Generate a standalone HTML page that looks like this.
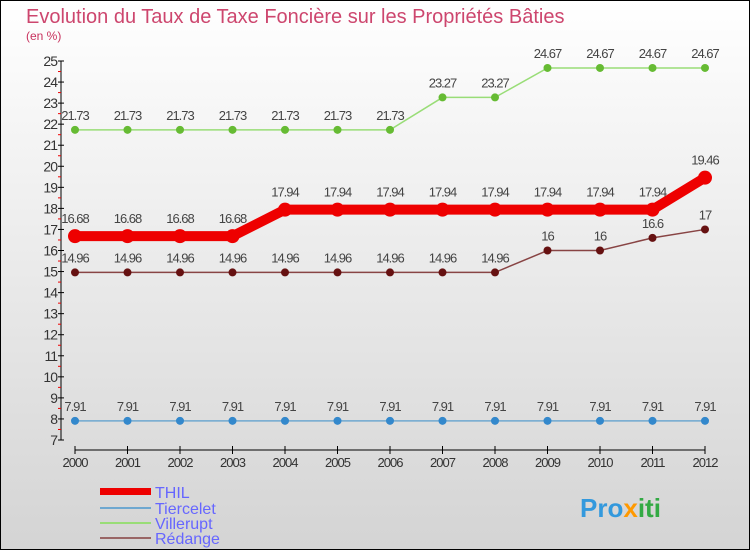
<!DOCTYPE html>
<html><head><meta charset="utf-8"><style>
body{margin:0}
#c{width:750px;height:550px;position:relative;overflow:hidden}
text{font-family:"Liberation Sans",sans-serif}
</style></head><body>
<div id="c">
<svg id="s" width="750" height="550">
<defs><linearGradient id="bg" x1="0" y1="0" x2="0" y2="1"><stop offset="0" stop-color="#ffffff"/><stop offset="1" stop-color="#d4d4d4"/></linearGradient></defs>
<rect x="0.5" y="0.5" width="749" height="549" fill="url(#bg)" stroke="#000"/>
<text x="26" y="23" font-size="20" fill="#c8325e" fill-opacity="0.9">Evolution du Taux de Taxe Foncière sur les Propriétés Bâties</text>
<text x="26" y="40" font-size="12" fill="#c8325e">(en %)</text>
<g id="axes"></g><g id="series"></g>
<g>
<rect x="100" y="488" width="51" height="7" fill="#ee0000"/>
<text x="155" y="498" font-size="16" fill="#6666ff">THIL</text>
<rect x="100" y="507" width="51" height="2" fill="#6fa8d0"/>
<text x="155" y="514" font-size="16" fill="#6666ff">Tiercelet</text>
<rect x="100" y="522" width="51" height="2" fill="#99dd77"/>
<text x="155" y="529" font-size="16" fill="#6666ff">Villerupt</text>
<rect x="100" y="537" width="51" height="2" fill="#996666"/>
<text x="155" y="544" font-size="16" fill="#6666ff">Rédange</text>
</g>
<text x="580" y="517" font-size="26" font-weight="bold"><tspan fill="#3399dd">Pro</tspan><tspan fill="#ff9900">x</tspan><tspan fill="#33aa44">iti</tspan></text>
</svg></div>
<script>
const years=[2000,2001,2002,2003,2004,2005,2006,2007,2008,2009,2010,2011,2012];
const thil=[16.68,16.68,16.68,16.68,17.94,17.94,17.94,17.94,17.94,17.94,17.94,17.94,19.46];
const tiercelet=[7.91,7.91,7.91,7.91,7.91,7.91,7.91,7.91,7.91,7.91,7.91,7.91,7.91];
const villerupt=[21.73,21.73,21.73,21.73,21.73,21.73,21.73,23.27,23.27,24.67,24.67,24.67,24.67];
const redange=[14.96,14.96,14.96,14.96,14.96,14.96,14.96,14.96,14.96,16,16,16.6,17];
const yTicks=[7,8,9,10,11,12,13,14,15,16,17,18,19,20,21,22,23,24,25];
const NS="http://www.w3.org/2000/svg";
const xS=i=>75+i*52.5;
const yS=v=>440-(v-7)*(379/18);
function mk(p,t,a){const e=document.createElementNS(NS,t);for(const k in a)e.setAttribute(k,a[k]);p.appendChild(e);return e;}
const ax=document.getElementById('axes');
let l=mk(ax,'line',{x1:61,y1:yS(25),x2:61,y2:yS(7),stroke:'#000'});


l=mk(ax,'line',{x1:75,y1:450,x2:705,y2:450,stroke:'#000'});


yTicks.forEach(v=>{
 mk(ax,'line',{x1:58,x2:64,y1:yS(v),y2:yS(v),stroke:'#000'});
 if(v<25)mk(ax,'line',{x1:58,x2:61,y1:yS(v+0.5),y2:yS(v+0.5),stroke:'#e00'});
 const t=mk(ax,'text',{x:57,y:yS(v)+5,'font-size':14,'text-anchor':'end',fill:'#333','letter-spacing':'-1'});
 t.textContent=v;
 
 
});
years.forEach((y,i)=>{
 mk(ax,'line',{x1:xS(i),x2:xS(i),y1:446,y2:454,stroke:'#000'});
 const t=mk(ax,'text',{x:xS(i),y:467,'font-size':13,'text-anchor':'middle',fill:'#333','letter-spacing':'-1'});
 t.textContent=y;
 
 
});
const sg=document.getElementById('series');
function series(name,data,color,dot,w,r){
 const g=mk(sg,'g',{});
 
 
 const p=mk(g,'polyline',{points:data.map((v,i)=>xS(i)+','+yS(v)).join(' '),fill:'none',stroke:color,'stroke-width':w});
 
 
 data.forEach((v,i)=>{
  const c=mk(g,'circle',{cx:xS(i),cy:yS(v),r:r,fill:dot});
  
  
  const t=mk(g,'text',{x:xS(i),y:yS(v)-(r+6),'font-size':13,'text-anchor':'middle',fill:'#444','letter-spacing':'-1'});
  t.textContent=v;
  
  
 });
}
series('villerupt',villerupt,'#99dd77','#66bb33',1.5,4);
series('redange',redange,'#884444','#661111',1.5,4);
series('tiercelet',tiercelet,'#6fa8d0','#3388cc',1.5,4);
series('thil',thil,'#ee0000','#ee0000',10,7);
</script>
</body></html>
